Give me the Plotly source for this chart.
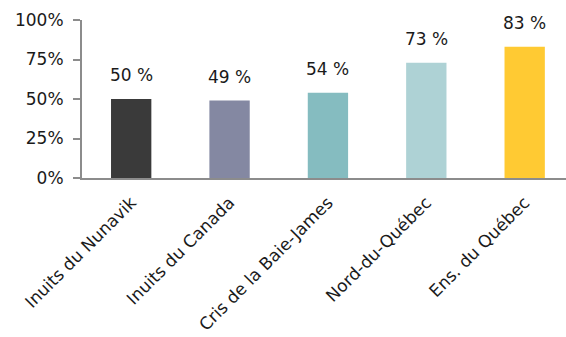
import plotly.graph_objects as go

# Share of population, by group
categories = ["Inuits du Nunavik", "Inuits du Canada", "Cris de la Baie-James",
              "Nord-du-Québec", "Ens. du Québec"]
values = [50, 49, 54, 73, 83]
colors = ["#3a3a3a", "#8488a2", "#85bcc0", "#aed2d5", "#ffca33"]
tick_vals = [0, 25, 50, 75, 100]
tick_text = ["0%", "25%", "50%", "75%", "100%"]

FONT = "DejaVu Sans"
AXIS = "#8c8c8c"
TEXT = "#1a1a1a"

fig = go.Figure(
    go.Bar(
        x=categories,
        y=values,
        marker=dict(color=colors, line=dict(width=0)),
        width=0.41,
        hoverinfo="skip",
    )
)

# value labels above each bar
for c, v in zip(categories, values):
    fig.add_annotation(
        x=c, y=v, text=f"{v} %", showarrow=False,
        yanchor="bottom", yshift=12,
        font=dict(family=FONT, size=17, color=TEXT),
    )

fig.update_layout(
    width=566, height=337,
    margin=dict(l=82, r=0, t=20, b=159, autoexpand=False),
    paper_bgcolor="white", plot_bgcolor="white",
    showlegend=False,
    font=dict(family=FONT, color=TEXT),
    xaxis=dict(
        range=[-0.5, 4.42], automargin=False,
        showline=True, linecolor=AXIS, linewidth=2,
        ticks="", tickangle=-45, ticklabelstandoff=6,
        tickfont=dict(family=FONT, size=17, color=TEXT),
        showgrid=False, zeroline=False,
    ),
    yaxis=dict(
        range=[0, 100], automargin=False,
        tickvals=tick_vals, ticktext=tick_text,
        showline=True, linecolor=AXIS, linewidth=2,
        ticks="outside", ticklen=7, tickcolor=AXIS, tickwidth=2,
        ticklabelstandoff=6,
        tickfont=dict(family=FONT, size=17, color=TEXT),
        showgrid=False, zeroline=False,
    ),
)

fig.write_html("out.html")
